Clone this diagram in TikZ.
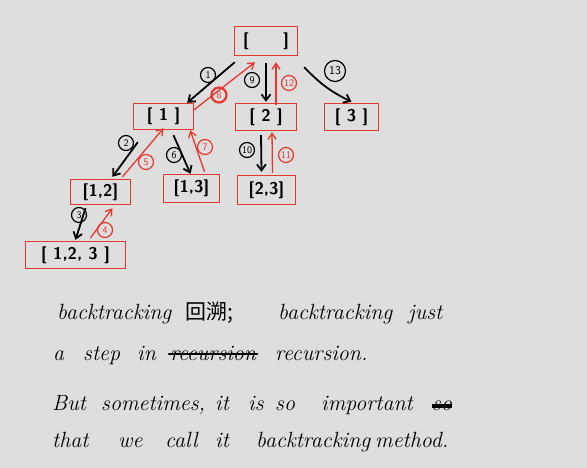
\documentclass[tikz,border=0pt]{standalone}
\usepackage{fontspec}
\newfontfamily\cjk{Noto Sans CJK SC}
\usetikzlibrary{arrows.meta,calc}
\definecolor{bg}{HTML}{DEDEDE}
\definecolor{rd}{HTML}{E4382E}
\begin{document}
\begin{tikzpicture}[x=1pt,y=-1pt,
  box/.style={inner sep=0pt, text=black,
    font=\sffamily\bfseries\fontsize{17}{19}\selectfont},
  frame/.style={draw=rd, line width=1.2pt},
  blk/.style={draw=black, line width=1.8pt, -{Straight Barb[length=6pt,width=9pt]}},
  rarr/.style={draw=rd, line width=1.3pt, -{Straight Barb[length=6pt,width=8pt]}},
  lab/.style={circle, draw=black, line width=1.2pt, inner sep=0.5pt, minimum size=15pt,
    font=\sffamily\fontsize{10}{11}\selectfont},
  rlab/.style={lab, draw=rd, text=rd},
  word/.style={anchor=base west, inner sep=0pt, font=\itshape\fontsize{22}{26}\selectfont},
  strike/.style={line width=2.2pt, line cap=round}]
\fill[bg] (0,0) rectangle (587,468);
\useasboundingbox (0,0) rectangle (587,468);

% boxes
\node[box, minimum width=62pt, minimum height=28pt] (root) at (266,41) {[\quad\quad ]};
\node[box, minimum width=59pt, minimum height=25pt] (n1) at (163.5,116.5) {[ 1 ]};
\node[box, minimum width=60pt, minimum height=26pt] (n2) at (266,117) {[ 2 ]};
\node[box, minimum width=53pt, minimum height=26pt] (n3) at (351.5,117) {[ 3 ]};
\node[box, minimum width=59pt, minimum height=24pt] (n12) at (100.5,192) {[1,2]};
\node[box, minimum width=55pt, minimum height=27pt] (n13) at (191.5,188.5) {[1,3]};
\node[box, minimum width=57pt, minimum height=28pt] (n23) at (266.5,190) {[2,3]};
\node[box, minimum width=99pt, minimum height=26pt] (n123) at (75.5,255) {[ 1,2, 3 ]};
\foreach \n in {root,n1,n2,n3,n12,n13,n23,n123}
  \draw[frame] (\n.north west) rectangle (\n.south east);

% arrows
\draw[blk] ($(root.south west)+(0,7)$) -- ($(n1.north east)+(-6,-1)$);
\draw[rarr] ($(n1.east)+(0,-6)$) -- ($(root.south)+(-11,7)$);
\draw[blk] ($(root.south)+(0,8)$) -- ($(n2.north)+(0,-2)$);
\draw[rarr] ($(n2.north)+(10,1)$) -- ($(root.south)+(10,7)$);
\draw[blk] ($(root.south east)+(7,12)$) to[bend right=10] ($(n3.north)+(0,-2)$);
\draw[blk] ($(n1.south west)+(4,13)$) -- ($(n12.north)+(12,-3)$);
\draw[rarr] ($(n12.north)+(22,-3)$) -- ($(n1.south)+(0,-1)$);
\draw[blk] ($(n1.south)+(10,6)$) -- ($(n13.north)+(-1,-1)$);
\draw[rarr] ($(n13.north)+(13,-3)$) -- ($(n1.south east)+(-3,1)$);
\draw[blk] ($(n2.south)+(-5,5)$) -- ($(n23.north)+(-5,-4)$);
\draw[rarr] ($(n23.north)+(6,-3)$) -- ($(n2.south)+(6,2)$);
\draw[blk] ($(n12.south)+(-15,4)$) -- ($(n123.north)+(0,-2)$);
\draw[rarr] ($(n123.north)+(15,-4)$) -- ($(n12.south)+(12,4)$);

% step labels
\node[lab] (l1) at (208,75) {1};
\node[rlab, line width=2.2pt] (l8) at (219,95) {8};
\node[lab] (l9) at (252,80) {9};
\node[rlab] (l12) at (289,83) {12};
\node[lab, minimum size=21pt, font=\sffamily\fontsize{12}{13}\selectfont] (l13) at (335,71) {13};
\node[lab] (l2) at (126,143) {2};
\node[rlab] (l5) at (146,162) {5};
\node[lab] (l6) at (174,155) {6};
\node[rlab] (l7) at (205,147) {7};
\node[lab] (l10) at (247,150) {10};
\node[rlab] (l11) at (286,155) {11};
\node[lab] (l3) at (79,215) {3};
\node[rlab] (l4) at (105,230) {4};

% handwritten text
\node[word] (t1) at (57,319) {backtracking};
\node[word, font=\cjk\fontsize{21}{24}\selectfont] (t2) at (185,319) {回溯;};
\node[word] (t3) at (278,319) {backtracking};
\node[word] (t4) at (408,319) {just};

\node[word] (t5) at (53,360) {a};
\node[word] (t6) at (83,360) {step};
\node[word] (t7) at (137,360) {in};
\node[word] (t8) at (170,360) {recursion};
\draw[strike] ($(t8.base west)+(-1,-6)$) -- ($(t8.base east)+(1,-6)$);
\node[word] (t9) at (275,360) {recursion.};

\node[word] (t10) at (52,410) {But};
\node[word] (t11) at (101,410) {sometimes,};
\node[word] (t12) at (215,410) {it};
\node[word] (t13) at (248,410) {is};
\node[word] (t14) at (275,410) {so};
\node[word] (t15) at (321,410) {important};
\node[word] (t16) at (432,410) {so};
\draw[line width=4pt] ($(t16.base west)+(0,-4)$) -- ($(t16.base east)+(0,-4)$);

\node[word] (t17) at (52,447) {that};
\node[word] (t18) at (118,447) {we};
\node[word] (t19) at (165,447) {call};
\node[word] (t20) at (215,447) {it};
\node[word] (t21) at (256,447) {backtracking};
\node[word] (t22) at (375,447) {method.};
\end{tikzpicture}
\end{document}
